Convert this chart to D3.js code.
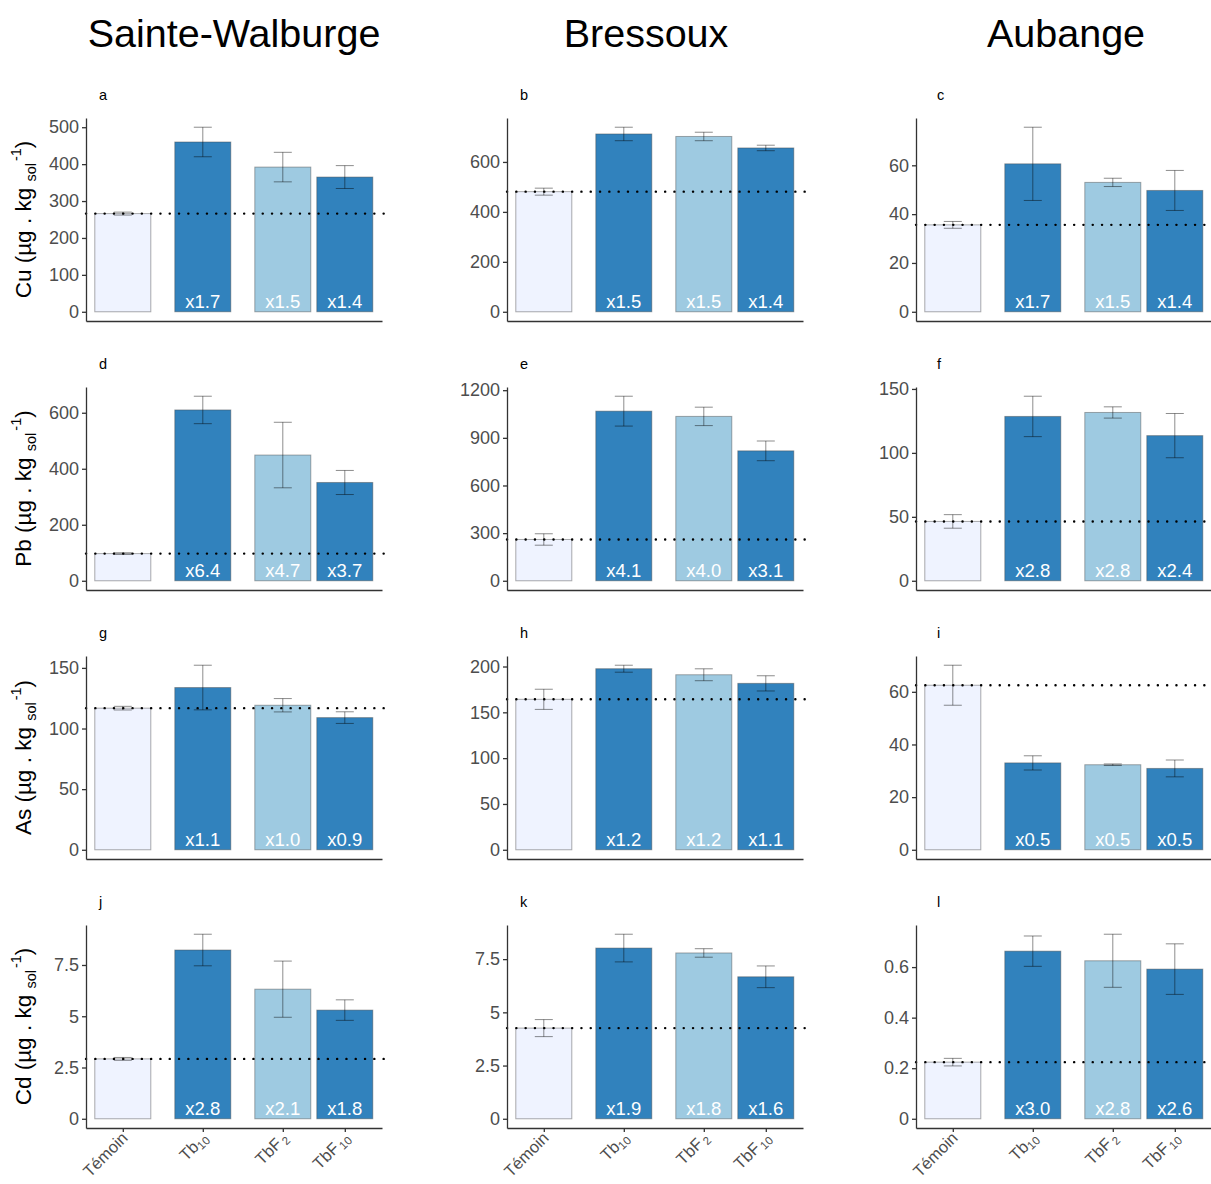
<!DOCTYPE html>
<meta charset="utf-8">
<style>
body { margin: 0; background: #fff; }
svg { font-family: "Liberation Sans", Arial, Helvetica, sans-serif; }
.axis path, .axis line { stroke: #333; stroke-width: 1.3; }
.axis text { fill: #4d4d4d; font-size: 18px; font-family: "Liberation Sans", Arial, sans-serif; }
.bar { stroke: rgba(70,70,70,0.45); stroke-width: 1; }
.err { stroke: rgba(0,0,0,0.45); stroke-width: 1; }
.ref { stroke: #000; stroke-width: 2.4; stroke-dasharray: 0.1,9.2; stroke-linecap: round; }
.fact { fill: #fff; font-size: 18.5px; text-anchor: middle; }
</style>
<svg width="1211" height="1184"></svg>
<script src="https://d3js.org/d3.v7.min.js"></script>
<script>

var sites = ["Sainte-Walburge", "Bressoux", "Aubange"];
var metals = ["Cu", "Pb", "As", "Cd"];
var treatments = ["Témoin", "Tb10", "TbF2", "TbF10"];
var panelLetters = [["a", "b", "c"], ["d", "e", "f"], ["g", "h", "i"], ["j", "k", "l"]];

// means and standard errors, per site (Sainte-Walburge, Bressoux, Aubange)
var cuMean = [[266, 460, 392, 365], [481, 712, 702, 656], [35.6, 60.6, 53.0, 49.7]];
var cuSe   = [[4, 40, 40, 31], [14, 27, 17, 11], [1.4, 15.0, 1.7, 8.2]];
var pbMean = [[97, 610, 449, 351], [260, 1068, 1035, 818], [46.4, 128.5, 131.6, 113.5]];
var pbSe   = [[3, 49, 117, 43], [36, 94, 58, 62], [5.3, 15.8, 4.4, 17.3]];
var asMean = [[116.8, 133.8, 119.2, 109.0], [164.2, 197.6, 191.0, 181.6], [62.5, 33.0, 32.3, 30.9]];
var asSe   = [[1.5, 18.4, 5.5, 4.8], [11, 3.8, 6.5, 8.3], [7.6, 2.7, 0.3, 3.2]];
var cdMean = [[2.92, 8.23, 6.32, 5.30], [4.26, 8.02, 7.79, 6.67], [0.224, 0.663, 0.625, 0.592]];
var cdSe   = [[0.07, 0.77, 1.37, 0.50], [0.40, 0.65, 0.20, 0.51], [0.015, 0.06, 0.105, 0.10]];

// enrichment factors vs Témoin (Tb10, TbF2, TbF10)
var cuFactor = [["x1.7", "x1.5", "x1.4"], ["x1.5", "x1.5", "x1.4"], ["x1.7", "x1.5", "x1.4"]];
var pbFactor = [["x6.4", "x4.7", "x3.7"], ["x4.1", "x4.0", "x3.1"], ["x2.8", "x2.8", "x2.4"]];
var asFactor = [["x1.1", "x1.0", "x0.9"], ["x1.2", "x1.2", "x1.1"], ["x0.5", "x0.5", "x0.5"]];
var cdFactor = [["x2.8", "x2.1", "x1.8"], ["x1.9", "x1.8", "x1.6"], ["x3.0", "x2.8", "x2.6"]];

// y tick labels
var cuTicks = [[0, 100, 200, 300, 400, 500], [0, 200, 400, 600], [0, 20, 40, 60]];
var pbTicks = [[0, 200, 400, 600], [0, 300, 600, 900, 1200], [0, 50, 100, 150]];
var asTicks = [[0, 50, 100, 150], [0, 50, 100, 150, 200], [0, 20, 40, 60]];
var cdTicks = [[0, 2.5, 5, 7.5], [0, 2.5, 5, 7.5], [0, 0.2, 0.4, 0.6]];

var means = [cuMean, pbMean, asMean, cdMean],
    ses = [cuSe, pbSe, asSe, cdSe],
    factors = [cuFactor, pbFactor, asFactor, cdFactor],
    ticks = [cuTicks, pbTicks, asTicks, cdTicks];

// layout
var colLeft = [86, 507, 916],
    rowTop = [118, 387, 656, 925],
    titleX = [234, 646, 1066],
    letterX = [99, 520, 937],
    w = 296, h = 203;
var xPos = [1, 2, 3, 3.775];   // bar slots (last two pairs sit closer)
var barW = 0.7;
var colors = ["#eff3ff", "#3182bd", "#9ecae1", "#3182bd"];

var svg = d3.select("svg");

var x = d3.scaleLinear().domain([0.54, 4.24]).range([0, w]);

svg.selectAll(".title")
  .data(sites)
  .enter().append("text")
    .attr("class", "title")
    .attr("x", function(d, i) { return titleX[i]; })
    .attr("y", 47)
    .attr("text-anchor", "middle")
    .style("font-size", "39.5px")
    .text(function(d) { return d; });

metals.forEach(function(metal, r) {
  sites.forEach(function(site, c) {
    var m = means[r][c], s = ses[r][c];
    var top = d3.max(m, function(v, i) { return v + s[i]; });
    var y = d3.scaleLinear().domain([-0.05 * top, 1.05 * top]).range([h, 0]);

    var g = svg.append("g")
        .attr("transform", "translate(" + colLeft[c] + "," + rowTop[r] + ")");

    svg.append("text")
        .attr("x", letterX[c])
        .attr("y", rowTop[r] - 18)
        .style("font-size", "14.5px")
        .text(panelLetters[r][c]);

    var rows = treatments.map(function(t, i) {
      return {t: t, i: i, mean: m[i], se: s[i]};
    });

    g.selectAll(".bar")
      .data(rows)
      .enter().append("rect")
        .attr("class", "bar")
        .attr("x", function(d) { return x(xPos[d.i] - barW / 2); })
        .attr("width", x(barW) - x(0))
        .attr("y", function(d) { return y(d.mean); })
        .attr("height", function(d) { return y(0) - y(d.mean); })
        .attr("fill", function(d) { return colors[d.i]; });

    var eb = g.selectAll(".eb").data(rows).enter().append("g");
    eb.append("line").attr("class", "err")
        .attr("x1", function(d) { return x(xPos[d.i]); })
        .attr("x2", function(d) { return x(xPos[d.i]); })
        .attr("y1", function(d) { return y(d.mean + d.se); })
        .attr("y2", function(d) { return y(d.mean - d.se); });
    [1, -1].forEach(function(sign) {
      eb.append("line").attr("class", "err")
          .attr("x1", function(d) { return x(xPos[d.i] - 0.1125); })
          .attr("x2", function(d) { return x(xPos[d.i] + 0.1125); })
          .attr("y1", function(d) { return y(d.mean + sign * d.se); })
          .attr("y2", function(d) { return y(d.mean + sign * d.se); });
    });

    g.selectAll(".fact")
      .data(factors[r][c])
      .enter().append("text")
        .attr("class", "fact")
        .attr("x", function(d, i) { return x(xPos[i + 1]); })
        .attr("y", y(0) - 4)
        .text(function(d) { return d; });

    g.append("line")
        .attr("class", "ref")
        .attr("x1", 0).attr("x2", w + 3)
        .attr("y1", y(m[0])).attr("y2", y(m[0]));

    g.append("g")
        .attr("class", "axis")
        .call(d3.axisLeft(y).tickValues(ticks[r][c]).tickSize(4).tickSizeOuter(0).tickPadding(3)
          .tickFormat(function(d) { return String(d); }));

    g.append("g")
        .attr("class", "axis")
        .attr("transform", "translate(0," + h + ")")
        .call(d3.axisBottom(x).tickValues(r === 3 ? xPos : []).tickSize(4).tickSizeOuter(0).tickFormat(""));

    if (r === 3) {
      treatments.forEach(function(t, i) {
        var lab = g.append("text")
            .attr("transform", "translate(" + (x(xPos[i]) + 6) + "," + (h + 11) + ") rotate(-45)")
            .attr("text-anchor", "end")
            .style("font-size", "16.5px")
            .attr("fill", "#4d4d4d");
        var m2 = t.match(/^(\D+)(\d*)$/);
        lab.append("tspan").text(m2[1]);
        if (m2[2]) {
          lab.append("tspan")
              .attr("dy", 3)
              .attr("dx", m2[1] === "TbF" ? 2 : 0)
              .style("font-size", "11.5px")
              .text(m2[2]);
        }
      });
    }

    if (c === 0) {
      var yl = svg.append("text")
          .attr("transform", "translate(31," + (rowTop[r] + h / 2) + ") rotate(-90)")
          .attr("text-anchor", "middle")
          .style("font-size", "22.5px");
      yl.append("tspan").text(metal + " (µg . kg ");
      yl.append("tspan").attr("dy", 5).style("font-size", "14.5px").text("sol");
      yl.append("tspan").attr("dy", -15).attr("dx", 2).style("font-size", "14.5px").text("-1");
      yl.append("tspan").attr("dy", 10).text(")");
    }
  });
});

</script>
